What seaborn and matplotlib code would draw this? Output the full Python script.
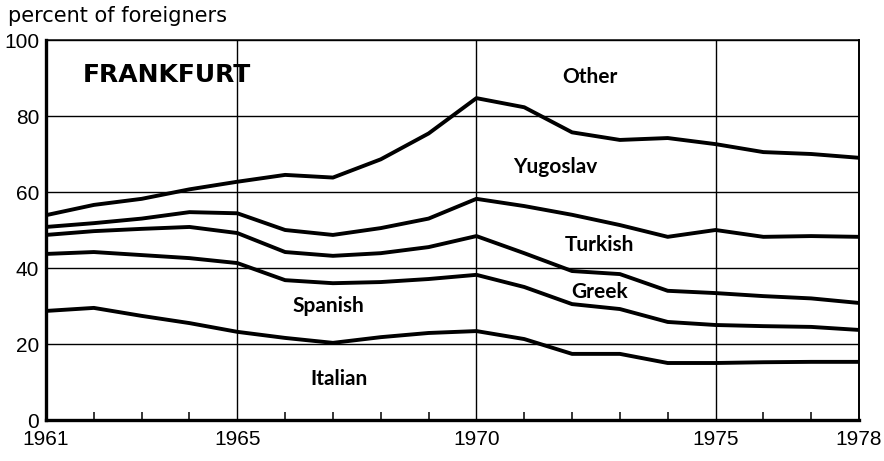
import matplotlib
matplotlib.use("Agg")
import matplotlib.pyplot as plt
import seaborn as sns
import pandas as pd
from matplotlib import font_manager
from matplotlib.ticker import FixedLocator, MultipleLocator

# ---- data (cumulative boundaries, percent of foreigners) ----
years = list(range(1961, 1979))
italian_top = [28.7, 29.5, 27.4, 25.5, 23.2, 21.6, 20.3, 21.8, 22.9, 23.4,
               21.3, 17.4, 17.4, 15.0, 15.0, 15.2, 15.3, 15.3]
spanish_top = [43.7, 44.2, 43.4, 42.6, 41.3, 36.8, 36.0, 36.3, 37.1, 38.2,
               35.0, 30.5, 29.2, 25.8, 25.0, 24.7, 24.5, 23.7]
greek_top = [48.7, 49.7, 50.3, 50.8, 49.2, 44.2, 43.2, 43.9, 45.5, 48.4,
             43.9, 39.2, 38.4, 34.0, 33.4, 32.6, 32.0, 30.8]
turkish_top = [50.8, 51.8, 53.0, 54.7, 54.4, 50.0, 48.7, 50.5, 53.0, 58.2,
               56.3, 54.0, 51.3, 48.2, 50.0, 48.2, 48.4, 48.2]
yugoslav_top = [53.9, 56.6, 58.2, 60.7, 62.7, 64.5, 63.8, 68.6, 75.4, 84.7,
                82.3, 75.7, 73.7, 74.2, 72.6, 70.5, 70.0, 69.0]

x_tick_years = [1961, 1965, 1970, 1975, 1978]
y_ticks = [0, 20, 40, 60, 80, 100]

group_labels = ["Other", "Yugoslav", "Turkish", "Greek", "Spanish", "Italian"]
label_x = [1972.38, 1971.65, 1972.57, 1972.57, 1966.91, 1967.12]
label_y = [90.3, 66.6, 46.0, 33.7, 30.0, 10.8]

boundaries = {
    "Italian": italian_top,
    "Spanish": spanish_top,
    "Greek": greek_top,
    "Turkish": turkish_top,
    "Yugoslav": yugoslav_top,
}
df = pd.concat(
    [pd.DataFrame({"year": years, "pct": v, "group": k}) for k, v in boundaries.items()],
    ignore_index=True,
)

sns.set_theme(style="white")
plt.rcParams["font.family"] = ["DejaVu Sans"]
for key in ["text.color", "axes.labelcolor", "xtick.color", "ytick.color"]:
    plt.rcParams[key] = "black"

installed = {f.name for f in font_manager.fontManager.ttflist}
if "Liberation Sans Narrow" in installed:
    tick_family, tick_size = ["Liberation Sans Narrow"], 17.5
else:
    tick_family, tick_size = ["Liberation Sans", "DejaVu Sans"], 15

fig = plt.figure(figsize=(8.84, 4.61), dpi=100)
ax = fig.add_axes([46 / 884, 41 / 461, (859 - 46) / 884, 380 / 461])

sns.lineplot(data=df, x="year", y="pct", units="group", estimator=None,
             color="black", linewidth=2.8, ax=ax, legend=False)

ax.set_xlim(1961, 1978)
ax.set_ylim(0, 100)
ax.set_xlabel("")
ax.set_ylabel("")

ax.xaxis.set_major_locator(FixedLocator(x_tick_years))
ax.xaxis.set_minor_locator(MultipleLocator(1))
ax.yaxis.set_major_locator(FixedLocator(y_ticks))
ax.set_xticklabels([str(y) for y in x_tick_years])
ax.set_yticklabels([str(v) for v in y_ticks])

for lab in ax.get_xticklabels() + ax.get_yticklabels():
    lab.set_fontfamily(tick_family)
    lab.set_fontsize(tick_size)
    lab.set_color("black")

ax.tick_params(axis="x", which="major", length=0, pad=7)
ax.tick_params(axis="x", which="minor", direction="in", length=6, width=1.1,
               color="black", bottom=True)
ax.tick_params(axis="y", which="major", length=0, pad=5)

ax.grid(True, which="major", color="black", linewidth=1.0)
ax.set_axisbelow(True)

for side, lw in [("left", 2.4), ("bottom", 2.4), ("top", 1.1), ("right", 1.4)]:
    ax.spines[side].set_visible(True)
    ax.spines[side].set_color("black")
    ax.spines[side].set_linewidth(lw)

ax.text(1961.77, 90.8, "FRANKFURT", ha="left", va="center", color="black",
        fontsize=18, fontweight="bold", family=["DejaVu Sans"])

for name, lx, ly in zip(group_labels, label_x, label_y):
    ax.text(lx, ly, name, ha="center", va="center", fontsize=15, color="black",
            fontweight="bold", family=["Lato", "DejaVu Sans"])

fig.text(8 / 884, 1 - 22 / 461, "percent of foreigners", ha="left", color="black",
         va="baseline", fontsize=15, family=["DejaVu Sans"])

fig.savefig("out.png", dpi=100, facecolor="white")
